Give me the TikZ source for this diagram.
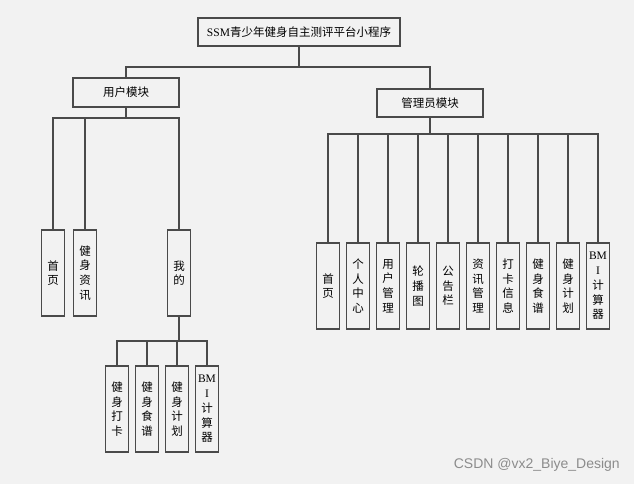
\documentclass[tikz,border=0pt]{standalone}
\usepackage{fontspec}
\setmainfont{Liberation Serif}
\newfontfamily\cjk{Noto Sans CJK SC}
\newfontfamily\wm{Liberation Sans}
\definecolor{bg}{HTML}{F2F2F2}
\definecolor{ln}{HTML}{4A4A4A}
\begin{document}
\begin{tikzpicture}[x=1pt,y=-1pt,
  box/.style={draw=ln,line width=1.5pt,fill=bg,inner sep=0pt,align=center,
    font=\cjk\fontsize{11.5}{14.7}\selectfont},
  leaf/.style={box,minimum width=23pt,minimum height=86pt},
  conn/.style={draw=ln,line width=1.5pt}]
\fill[bg] (0,0) rectangle (634,484);
\useasboundingbox (0,0) rectangle (634,484);
% top
\node[box,minimum width=202pt,minimum height=28pt] (top) at (299,32) {{\rmfamily SSM}青少年健身自主测评平台小程序};
\node[box,minimum width=106pt,minimum height=29pt] (user) at (126,92.5) {用户模块};
\node[box,minimum width=106pt,minimum height=28pt] (admin) at (430,103) {管理员模块};
% user leaves
\node[leaf] (u1) at (53,273) {首\\页};
\node[leaf] (u2) at (85,273) {健\\身\\资\\讯};
\node[leaf] (u3) at (179,273) {我\\的};
% sub leaves
\node[leaf] (s1) at (117,409) {健\\身\\打\\卡};
\node[leaf] (s2) at (147,409) {健\\身\\食\\谱};
\node[leaf] (s3) at (177,409) {健\\身\\计\\划};
\node[leaf] (s4) at (207,409) {{\rmfamily BM}\\{\rmfamily I}\\计\\算\\器};
% admin leaves
\node[leaf] (a1) at (328,286) {首\\页};
\node[leaf] (a2) at (358,286) {个\\人\\中\\心};
\node[leaf] (a3) at (388,286) {用\\户\\管\\理};
\node[leaf] (a4) at (418,286) {轮\\播\\图};
\node[leaf] (a5) at (448,286) {公\\告\\栏};
\node[leaf] (a6) at (478,286) {资\\讯\\管\\理};
\node[leaf] (a7) at (508,286) {打\\卡\\信\\息};
\node[leaf] (a8) at (538,286) {健\\身\\食\\谱};
\node[leaf] (a9) at (568,286) {健\\身\\计\\划};
\node[leaf] (a10) at (598,286) {{\rmfamily BM}\\{\rmfamily I}\\计\\算\\器};
% branch points
\coordinate (b0) at (299,67);
\coordinate (b1) at (126,118);
\coordinate (b2) at (430,134);
\coordinate (b3) at (179,341);
\draw[conn] (top.south) -- (b0);
\draw[conn] (user.north) |- (b0) -| (admin.north);
\draw[conn] (user.south) -- (b1);
\foreach \c in {u1,u2,u3} \draw[conn] (b1) -| (\c.north);
\draw[conn] (admin.south) -- (b2);
\foreach \c in {a1,a2,a3,a4,a5,a6,a7,a8,a9,a10} \draw[conn] (b2) -| (\c.north);
\draw[conn] (u3.south) -- (b3);
\foreach \c in {s1,s2,s3,s4} \draw[conn] (b3) -| (\c.north);
% watermark
\node[font=\wm\fontsize{14}{16}\selectfont,text=black!45,anchor=east,inner sep=0pt] (wm) at (620,465) {CSDN @vx2\_Biye\_Design};
\end{tikzpicture}
\end{document}
